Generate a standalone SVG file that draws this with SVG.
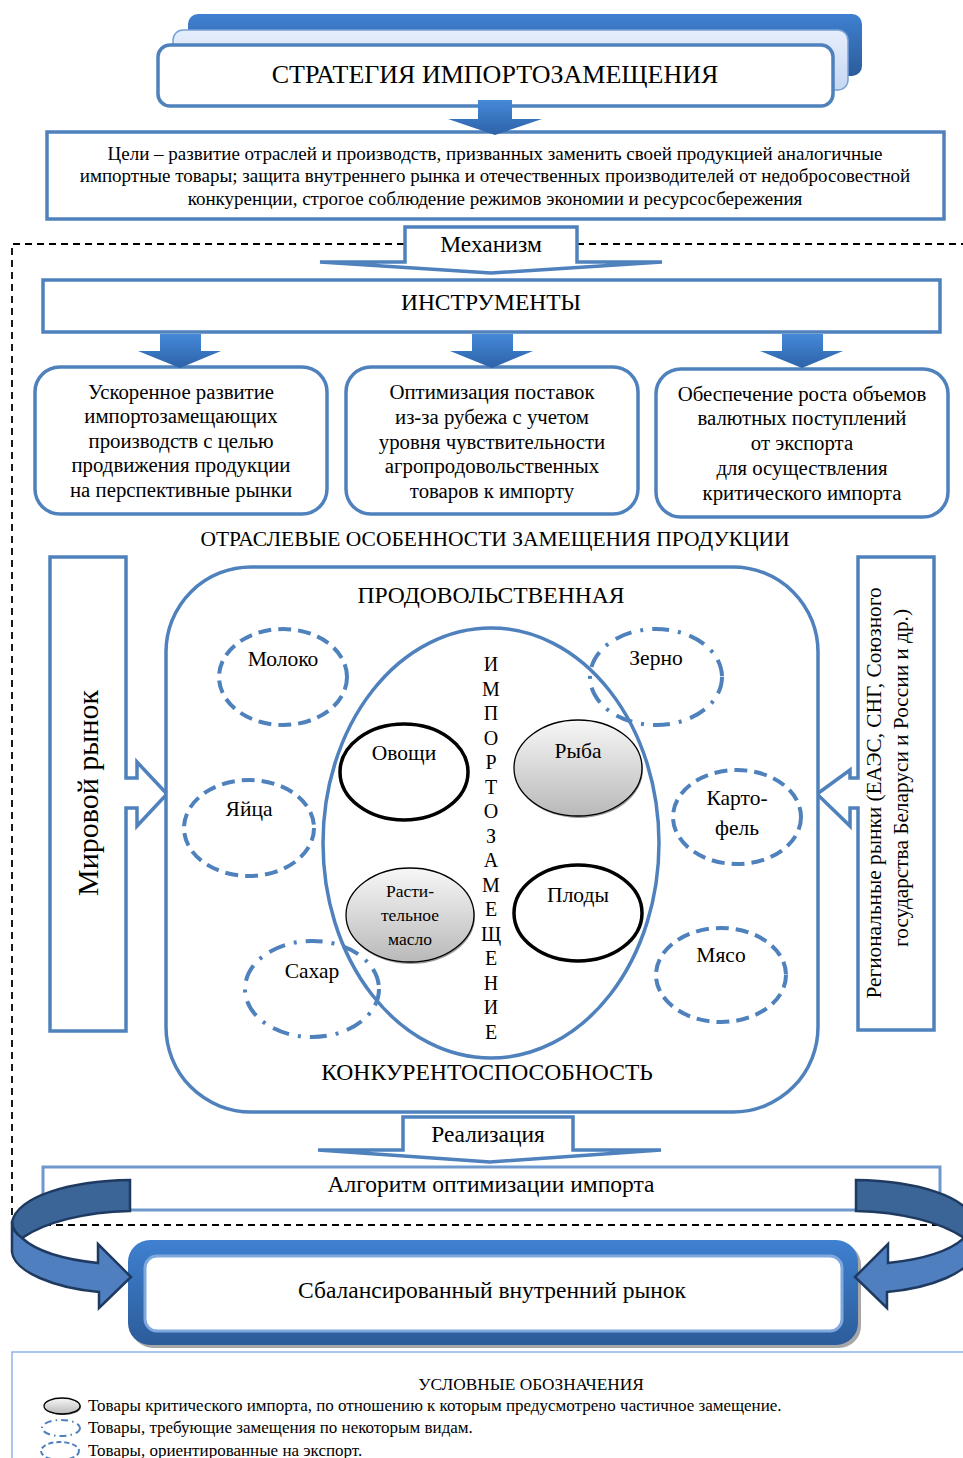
<svg xmlns="http://www.w3.org/2000/svg" width="963" height="1458" viewBox="0 0 963 1458">
<defs>
<linearGradient id="gBlue" x1="0" y1="0" x2="0" y2="1"><stop offset="0" stop-color="#3f80d0"/><stop offset="1" stop-color="#2c5c9a"/></linearGradient>
<linearGradient id="gLight" x1="0" y1="0" x2="0" y2="1"><stop offset="0" stop-color="#e6eefb"/><stop offset="1" stop-color="#c6d7f3"/></linearGradient>
<linearGradient id="gGray" x1="0" y1="0" x2="0" y2="1"><stop offset="0" stop-color="#f7f7f7"/><stop offset="1" stop-color="#b9b9b9"/></linearGradient>
<linearGradient id="gArrow" x1="0" y1="0" x2="0" y2="1"><stop offset="0" stop-color="#4589d8"/><stop offset="1" stop-color="#2d62a8"/></linearGradient>
</defs>
<style>
.t{font-family:"Liberation Serif","Times New Roman",serif;fill:#000;text-anchor:middle}
.box{fill:#fff;stroke:#4f81bd;stroke-width:3.5}
.dash{fill:none;stroke:#4f81bd;stroke-width:4;stroke-dasharray:13 7}
.dashdot{fill:none;stroke:#4f81bd;stroke-width:4;stroke-dasharray:17 9 3 9}
.blk{fill:#fff;stroke:#000;stroke-width:3.5}
.gray{fill:url(#gGray);stroke:#000;stroke-width:1.3}
.bd{fill:none;stroke:#000;stroke-width:1.8;stroke-dasharray:7 5}
.barrow{fill:url(#gArrow)}
.rib1{fill:#3b6497;stroke:#1f3a60;stroke-width:2.5}
.rib2{fill:#4f7fbf;stroke:#1f3a60;stroke-width:2.5}
.lg{font-family:"Liberation Serif","Times New Roman",serif;font-size:17px;fill:#000}
</style>
<rect width="963" height="1458" fill="#fff"/>

<g id="border">
<path class="bd" d="M12,1215 L12,244 L963,244"/>
<path class="bd" d="M20,1225 L963,1225"/>
</g>

<g id="title">
<rect x="188" y="14" width="674" height="62" rx="10" fill="url(#gBlue)"/>
<rect x="173" y="30" width="675" height="60" rx="10" fill="url(#gLight)" stroke="#7aa0d8" stroke-width="1.5"/>
<rect x="158" y="45" width="675" height="61" rx="12" class="box"/>
<text class="t" x="495" y="83" font-size="26">СТРАТЕГИЯ ИМПОРТОЗАМЕЩЕНИЯ</text>
</g>

<g id="goals">
<rect x="47" y="132" width="897" height="87" class="box" stroke-width="3"/>
<text class="t" x="495" y="160" font-size="19">Цели – развитие отраслей и производств, призванных заменить своей продукцией аналогичные</text>
<text class="t" x="495" y="182" font-size="19">импортные товары; защита внутреннего рынка и отечественных производителей от недобросовестной</text>
<text class="t" x="495" y="205" font-size="19">конкуренции, строгое соблюдение режимов экономии и ресурсосбережения</text>
</g>

<g id="instruments">
<rect x="43" y="280" width="897" height="52" class="box" stroke-width="4"/>
<text class="t" x="491" y="310" font-size="23.5">ИНСТРУМЕНТЫ</text>
</g>

<g id="tool1">
<rect x="35" y="367" width="292" height="147" rx="25" class="box"/>
<text class="t" x="181" y="399" font-size="20.8">Ускоренное развитие</text>
<text class="t" x="181" y="423" font-size="20.8">импортозамещающих</text>
<text class="t" x="181" y="448" font-size="20.8">производств с целью</text>
<text class="t" x="181" y="472" font-size="20.8">продвижения продукции</text>
<text class="t" x="181" y="497" font-size="20.8">на перспективные рынки</text>
</g>
<g id="tool2">
<rect x="346" y="367" width="292" height="147" rx="25" class="box"/>
<text class="t" x="492" y="399" font-size="20.8">Оптимизация поставок</text>
<text class="t" x="492" y="424" font-size="20.8">из-за рубежа с учетом</text>
<text class="t" x="492" y="449" font-size="20.8">уровня чувствительности</text>
<text class="t" x="492" y="473" font-size="20.8">агропродовольственных</text>
<text class="t" x="492" y="498" font-size="20.8">товаров к импорту</text>
</g>
<g id="tool3">
<rect x="656" y="369" width="292" height="148" rx="25" class="box"/>
<text class="t" x="802" y="401" font-size="20.8">Обеспечение роста объемов</text>
<text class="t" x="802" y="425" font-size="20.8">валютных поступлений</text>
<text class="t" x="802" y="450" font-size="20.8">от экспорта</text>
<text class="t" x="802" y="475" font-size="20.8">для осуществления</text>
<text class="t" x="802" y="500" font-size="20.8">критического импорта</text>
</g>

<g id="sector-title">
<text class="t" x="495" y="546" font-size="21.5">ОТРАСЛЕВЫЕ ОСОБЕННОСТИ ЗАМЕЩЕНИЯ ПРОДУКЦИИ</text>
</g>

<g id="world-market">
<path class="box" d="M50,557 L126,557 L126,778 L137,778 L137,762 L167,794 L137,826 L137,808 L126,808 L126,1031 L50,1031 Z"/>
<text class="t" transform="translate(98,793) rotate(-90)" font-size="30">Мировой рынок</text>
</g>

<g id="regional-market">
<path class="box" d="M934,557 L858,557 L858,778 L850,778 L850,770 L817,794 L850,826 L850,808 L858,808 L858,1030 L934,1030 Z"/>
<text class="t" transform="translate(881,793) rotate(-90)" font-size="21.3">Региональные рынки (ЕАЭС, СНГ, Союзного</text>
<text class="t" transform="translate(908,778) rotate(-90)" font-size="21.3">государства Беларуси и России и др.)</text>
</g>

<g id="food-sector">
<rect x="166" y="567" width="652" height="545" rx="85" class="box"/>
<text class="t" x="491" y="603" font-size="23.6">ПРОДОВОЛЬСТВЕННАЯ</text>
<text class="t" x="487" y="1080" font-size="23.6">КОНКУРЕНТОСПОСОБНОСТЬ</text>
</g>

<g id="import-substitution">
<ellipse cx="491" cy="843" rx="168" ry="215" fill="none" stroke="#4f81bd" stroke-width="3.5"/>
<text class="t" font-size="20"><tspan x="491" y="671">И</tspan><tspan x="491" dy="24.5">М</tspan><tspan x="491" dy="24.5">П</tspan><tspan x="491" dy="24.5">О</tspan><tspan x="491" dy="24.5">Р</tspan><tspan x="491" dy="24.5">Т</tspan><tspan x="491" dy="24.5">О</tspan><tspan x="491" dy="24.5">З</tspan><tspan x="491" dy="24.5">А</tspan><tspan x="491" dy="24.5">М</tspan><tspan x="491" dy="24.5">Е</tspan><tspan x="491" dy="24.5">Щ</tspan><tspan x="491" dy="24.5">Е</tspan><tspan x="491" dy="24.5">Н</tspan><tspan x="491" dy="24.5">И</tspan><tspan x="491" dy="24.5">Е</tspan></text>
</g>

<g id="milk"><ellipse cx="283" cy="677" rx="64" ry="48" class="dash"/><text class="t" x="283" y="666" font-size="21.5">Молоко</text></g>
<g id="grain"><ellipse cx="656" cy="677" rx="66" ry="48" class="dashdot"/><text class="t" x="656" y="665" font-size="21.5">Зерно</text></g>
<g id="eggs"><ellipse cx="249" cy="828" rx="65" ry="48" class="dash"/><text class="t" x="249" y="816" font-size="21.5">Яйца</text></g>
<g id="potato"><ellipse cx="737" cy="817" rx="64" ry="47" class="dash"/><text class="t" x="737" y="805" font-size="21.5">Карто-</text><text class="t" x="737" y="835" font-size="21.5">фель</text></g>
<g id="sugar"><ellipse cx="312" cy="989" rx="67" ry="48" class="dashdot"/><text class="t" x="312" y="978" font-size="21.5">Сахар</text></g>
<g id="meat"><ellipse cx="721" cy="975" rx="65" ry="47" class="dash"/><text class="t" x="721" y="962" font-size="21.5">Мясо</text></g>

<g id="vegetables"><ellipse cx="404" cy="772" rx="64" ry="48" class="blk"/><text class="t" x="404" y="760" font-size="21.5">Овощи</text></g>
<g id="fish"><ellipse cx="579" cy="770" rx="64" ry="48" fill="#9a9a9a"/><ellipse cx="578" cy="768" rx="64" ry="48" class="gray"/><text class="t" x="578" y="758" font-size="21.5">Рыба</text></g>
<g id="oil"><ellipse cx="411" cy="917" rx="64" ry="47" fill="#9a9a9a"/><ellipse cx="410" cy="915" rx="64" ry="47" class="gray"/><text class="t" x="410" y="897" font-size="17.5">Расти-</text><text class="t" x="410" y="921" font-size="17.5">тельное</text><text class="t" x="410" y="945" font-size="17.5">масло</text></g>
<g id="fruits"><ellipse cx="578" cy="913" rx="64" ry="48" class="blk"/><text class="t" x="578" y="902" font-size="21.5">Плоды</text></g>

<g id="algorithm">
<rect x="43" y="1167" width="897" height="43" fill="#fff" stroke="#6f98cc" stroke-width="3"/>
<text class="t" x="491" y="1192" font-size="23.5">Алгоритм оптимизации импорта</text>
</g>

<g id="balanced-market">
<rect x="131" y="1243" width="730" height="105" rx="22" fill="#a6a6a6"/>
<rect x="128" y="1240" width="730" height="105" rx="22" fill="url(#gBlue)"/>
<rect x="145" y="1256" width="697" height="75" rx="12" fill="#fff" stroke="#7fa8de" stroke-width="3"/>
<text class="t" x="492" y="1298" font-size="23.5">Сбалансированный внутренний рынок</text>
</g>

<g id="connectors">
<path class="barrow" d="M478,100 L512,100 L512,119 L542,119 L495,135 L448,119 L478,119 Z"/>
<path class="barrow" d="M160,334 L201,334 L201,351 L221,351 L180,368 L138,351 L160,351 Z"/>
<path class="barrow" d="M472,334 L513,334 L513,351 L533,351 L492,368 L450,351 L472,351 Z"/>
<path class="barrow" d="M782,334 L823,334 L823,351 L843,351 L802,368 L760,351 L782,351 Z"/>
<g id="mechanism">
<path class="box" stroke-width="4" d="M405,227 L577,227 L577,262 L662,262 L491,273 L320,262 L405,262 Z"/>
<text class="t" x="491" y="252" font-size="23.5">Механизм</text>
</g>
<g id="realization">
<path class="box" stroke-width="4" d="M403,1117 L573,1117 L573,1150 L661,1150 L490,1162 L318,1150 L403,1150 Z"/>
<text class="t" x="488" y="1142" font-size="23.4">Реализация</text>
</g>
<g id="loop-left">
<path class="rib1" d="M130,1180 C70,1181 18,1196 12,1222 C12,1228 16,1234 22,1238 C45,1222 85,1212 130,1211 Z"/>
<path class="rib2" d="M12,1222 L12,1252 C14,1272 55,1288 99,1292 L99,1308 L131,1277 L98,1244 L98,1263 C60,1259 35,1250 22,1238 C16,1234 12,1228 12,1222 Z"/>
</g>
<g id="loop-right" transform="translate(986,0) scale(-1,1)">
<path class="rib1" d="M130,1180 C70,1181 18,1196 12,1222 C12,1228 16,1234 22,1238 C45,1222 85,1212 130,1211 Z"/>
<path class="rib2" d="M12,1222 L12,1252 C14,1272 55,1288 99,1292 L99,1308 L131,1277 L98,1244 L98,1263 C60,1259 35,1250 22,1238 C16,1234 12,1228 12,1222 Z"/>
</g>
</g>

<g id="legend">
<path d="M12,1458 L12,1352 L963,1352" fill="none" stroke="#8eb4e3" stroke-width="1.5"/>
<text class="t" x="531" y="1390" font-size="17.3">УСЛОВНЫЕ ОБОЗНАЧЕНИЯ</text>
<ellipse cx="63" cy="1407" rx="18" ry="8" fill="#555"/>
<ellipse cx="62" cy="1406" rx="18" ry="8" class="gray" stroke-width="1.6"/>
<text class="lg" x="88" y="1411">Товары критического импорта, по отношению к которым предусмотрено частичное замещение.</text>
<ellipse cx="61" cy="1428" rx="19" ry="8" fill="none" stroke="#4f81bd" stroke-width="2" stroke-dasharray="7 4 1.5 4"/>
<text class="lg" x="88" y="1433">Товары, требующие замещения по некоторым видам.</text>
<ellipse cx="60" cy="1451" rx="19" ry="9" fill="none" stroke="#4f81bd" stroke-width="2" stroke-dasharray="5 3"/>
<text class="lg" x="88" y="1456">Товары, ориентированные на экспорт.</text>
</g>
</svg>
